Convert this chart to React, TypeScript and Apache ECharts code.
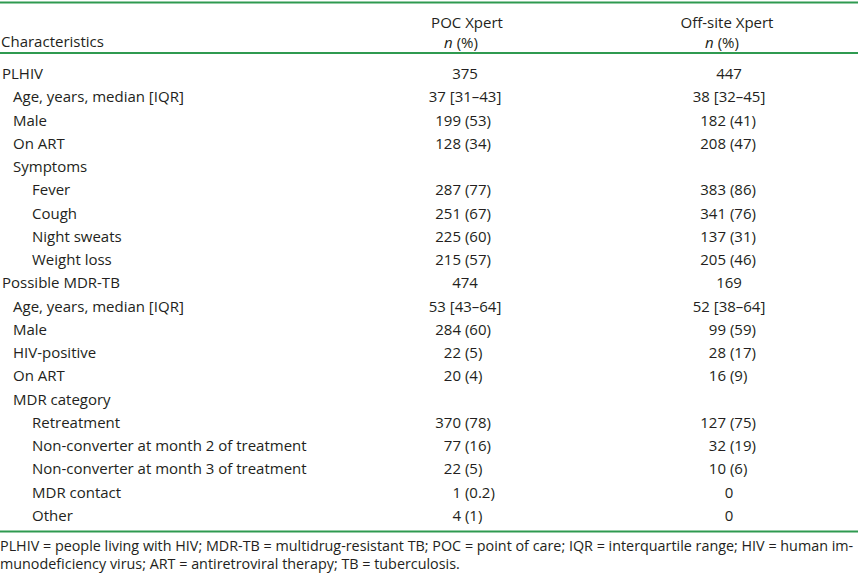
import React, { useEffect, useRef } from "react";
import * as echarts from "echarts";

const characteristics = [
  "PLHIV", "Age, years, median [IQR]", "Male", "On ART", "Symptoms", "Fever", "Cough", "Night sweats", "Weight loss",
  "Possible MDR-TB", "Age, years, median [IQR]", "Male", "HIV-positive", "On ART", "MDR category", "Retreatment",
  "Non-converter at month 2 of treatment", "Non-converter at month 3 of treatment", "MDR contact", "Other",
];
const indentLevels = [0, 1, 1, 1, 1, 2, 2, 2, 2, 0, 1, 1, 1, 1, 1, 2, 2, 2, 2, 2];
const pocValues = [
  "375", "37 [31–43]", "199 (53)", "128 (34)", "", "287 (77)", "251 (67)", "225 (60)", "215 (57)",
  "474", "53 [43–64]", "284 (60)", "22 (5)", "20 (4)", "", "370 (78)", "77 (16)", "22 (5)", "1 (0.2)", "4 (1)",
];
const offsiteValues = [
  "447", "38 [32–45]", "182 (41)", "208 (47)", "", "383 (86)", "341 (76)", "137 (31)", "205 (46)",
  "169", "52 [38–64]", "99 (59)", "28 (17)", "16 (9)", "", "127 (75)", "32 (19)", "10 (6)", "0", "0",
];
const columnHeaders = ["POC Xpert", "Off-site Xpert"];
const footnoteLines = [
  "PLHIV = people living with HIV; MDR-TB = multidrug-resistant TB; POC = point of care; IQR = interquartile range; HIV = human im-",
  "munodeficiency virus; ART = antiretroviral therapy; TB = tuberculosis.",
];

const FONT = "'Open Sans', 'Noto Sans', sans-serif";
const TEXT = "#231f20";
const GREEN = "#2f9a50";

export default function App() {
  const ref = useRef<HTMLDivElement>(null);
  useEffect(() => {
    if (!ref.current) return;
    const chart = echarts.init(ref.current, null, { renderer: "svg" });
    const ctx = document.createElement("canvas").getContext("2d")!;
    const measure = (t: string, size: number) => {
      ctx.font = `${size}px ${FONT}`;
      return ctx.measureText(t).width;
    };
    const W = 858;
    // fit font sizes to the reference's measured text widths
    const fs = Math.min(15, 14 * 106 / measure("Characteristics", 14));
    const fsNote = Math.min(15, 13 * 854 / measure(footnoteLines[0], 13));
    const pocCenter = 465;
    const pocAnchor = 461;
    const offCenter = 729;
    const offAnchor = 726;
    const rowTop = 73;
    const rowStep = 23.25;
    const els: any[] = [];
    const line = (y: number) => ({
      type: "rect",
      shape: { x: 0, y: y - 1, width: W, height: 2 },
      style: { fill: GREEN },
    });
    els.push(line(2.5), line(53), line(531.5));
    const txt = (x: number, y: number, t: string, align = "left") => ({
      type: "text",
      x, y,
      style: { text: t, fill: TEXT, font: `${fs}px ${FONT}`, textAlign: align, textVerticalAlign: "middle" },
    });
    const valueText = (t: string, y: number, center: number, anchor: number) => {
      const p = t.indexOf(" (");
      if (p < 0) return txt(center, y, t, "center");
      const w = measure(t.slice(0, p), fs);
      return txt(anchor - w, y, t, "left");
    };
    els.push(txt(1, 41, "Characteristics"));
    els.push(txt(467, 21.5, columnHeaders[0], "center"));
    els.push(txt(727, 21.5, columnHeaders[1], "center"));
    [461, 722].forEach((cx) => {
      els.push({
        type: "text", x: cx, y: 41.5,
        style: {
          text: "{i|n} (%)",
          textAlign: "center", textVerticalAlign: "middle",
          font: `${fs}px ${FONT}`, fill: TEXT,
          rich: { i: { fontStyle: "italic", fontSize: fs, fontFamily: FONT, fill: TEXT } },
        },
      });
    });
    const indents = [2, 13, 32];
    characteristics.forEach((c, i) => {
      const y = rowTop + i * rowStep;
      els.push(txt(indents[indentLevels[i]], y, c));
      if (pocValues[i]) els.push(valueText(pocValues[i], y, pocCenter, pocAnchor));
      if (offsiteValues[i]) els.push(valueText(offsiteValues[i], y, offCenter, offAnchor));
    });
    footnoteLines.forEach((l, i) => {
      els.push({
        type: "text", x: 0, y: 545.5 + i * 17.5,
        style: { text: l, fill: TEXT, font: `${fsNote}px ${FONT}`, textVerticalAlign: "middle", lineHeight: 16 },
      });
    });
    chart.setOption({ animation: false, graphic: els });
    return () => chart.dispose();
  }, []);
  return <div ref={ref} style={{ width: 858, height: 574, position: "absolute", left: 0, top: 0, background: "#fff" }} />;
}
